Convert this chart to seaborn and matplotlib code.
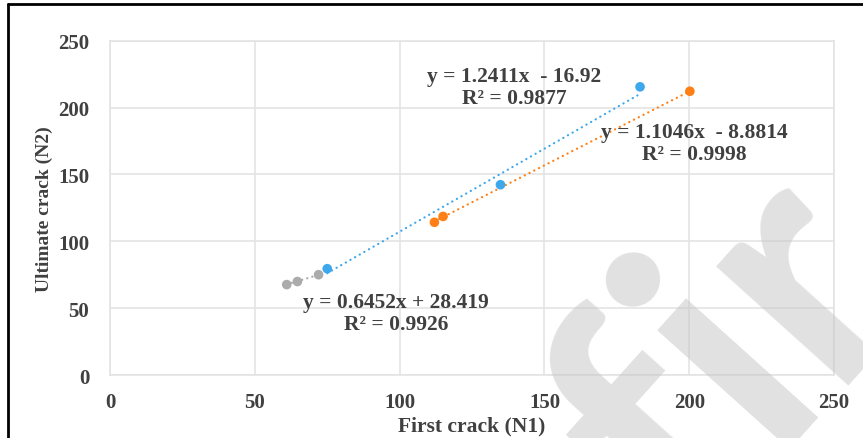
import numpy as np
import pandas as pd
import matplotlib
matplotlib.use("Agg")
import matplotlib.pyplot as plt
from matplotlib.lines import Line2D
import seaborn as sns

# First-crack vs ultimate-crack blow counts for three groups
gray_n1 = [61, 64.7, 72]
gray_n2 = [67.6, 69.9, 75.0]
blue_n1 = [75, 134.8, 183]
blue_n2 = [79.5, 142.3, 215.5]
orange_n1 = [112, 115, 200.2]
orange_n2 = [114.2, 118.6, 212.2]

# Linear trendline coefficients (slope, intercept) and R² as reported
trend_gray = (0.6452, 28.419, 0.9926)
trend_blue = (1.2411, -16.92, 0.9877)
trend_orange = (1.1046, -8.8814, 0.9998)

eq_gray = "y = 0.6452x + 28.419\nR² = 0.9926"
eq_blue = "y = 1.2411x  - 16.92\nR² = 0.9877"
eq_orange = "y = 1.1046x  - 8.8814\nR² = 0.9998"

x_ticks = [0, 50, 100, 150, 200, 250]
y_ticks = [0, 50, 100, 150, 200, 250]

colors = {"gray": "#ABABAB", "blue": "#3EA8EC", "orange": "#FF7F17"}
text_color = "#404040"

sns.set_theme(style="white")
plt.rcParams["font.family"] = ["Liberation Serif", "DejaVu Serif"]

points = pd.concat([
    pd.DataFrame({"N1": gray_n1, "N2": gray_n2, "group": "gray"}),
    pd.DataFrame({"N1": blue_n1, "N2": blue_n2, "group": "blue"}),
    pd.DataFrame({"N1": orange_n1, "N2": orange_n2, "group": "orange"}),
], ignore_index=True)

fits = []
for name, xs, coef in [("gray", gray_n1, trend_gray),
                       ("blue", blue_n1, trend_blue),
                       ("orange", orange_n1, trend_orange)]:
    xr = np.linspace(min(xs), max(xs), 50)
    fits.append(pd.DataFrame({"N1": xr, "N2": coef[0] * xr + coef[1], "group": name}))
fits = pd.concat(fits, ignore_index=True)

fig = plt.figure(figsize=(8.63, 4.39), dpi=100)
ax = fig.add_axes([0.1275, 0.1435, 0.839, 0.7615])

sns.lineplot(data=fits, x="N1", y="N2", hue="group", palette=colors,
             legend=False, ax=ax, linewidth=1.6, zorder=2)
for ln in ax.get_lines():
    ln.set_linestyle((0, (0.1, 2.3)))
    ln.set_dash_capstyle("round")

sns.scatterplot(data=points, x="N1", y="N2", hue="group", palette=colors,
                s=48, linewidth=0, legend=False, ax=ax, zorder=3)

ax.set_xlim(0, 250)
ax.set_ylim(0, 250)
ax.set_xticks(x_ticks)
ax.set_yticks(y_ticks)
ax.grid(True, color="#E2E2E2", linewidth=1.1)
for sp in ax.spines.values():
    sp.set_color("#E2E2E2")
    sp.set_linewidth(1.1)
ax.tick_params(axis="both", length=0, labelsize=15, labelcolor=text_color)
ax.tick_params(axis="y", pad=15)
ax.tick_params(axis="x", pad=12)
for lab in ax.get_xticklabels() + ax.get_yticklabels():
    lab.set_fontweight("bold")

ax.set_xlabel("First crack (N1)", fontsize=15.5, fontweight="bold",
              color=text_color, labelpad=3)
ax.set_ylabel("Ultimate crack (N2)", fontsize=14, fontweight="bold",
              color=text_color, labelpad=4)

eq_kw = dict(fontsize=15.5, fontweight="bold", color=text_color,
             ha="center", va="center", linespacing=1.1, multialignment="center")
ax.text(98.8, 46.5, eq_gray, **eq_kw)
ax.text(139.5, 215.4, eq_blue, **eq_kw)
ax.text(201.8, 173.5, eq_orange, **eq_kw)

# Faint diagonal lettering across the lower right
fig.text(0.80, -0.26, "fir", fontsize=250, fontweight="bold",
         family="Lato", color="#C4C4C4", alpha=0.5, rotation=48,
         rotation_mode="anchor", ha="left", va="baseline", zorder=10)

# Outer frame along the left and top edges
fig.add_artist(Line2D([0.0087, 0.0087], [0, 0.988], transform=fig.transFigure,
                      color="black", linewidth=2))
fig.add_artist(Line2D([0.0087, 1.0], [0.988, 0.988], transform=fig.transFigure,
                      color="black", linewidth=2))

fig.savefig("out.png", dpi=100, facecolor="white")
